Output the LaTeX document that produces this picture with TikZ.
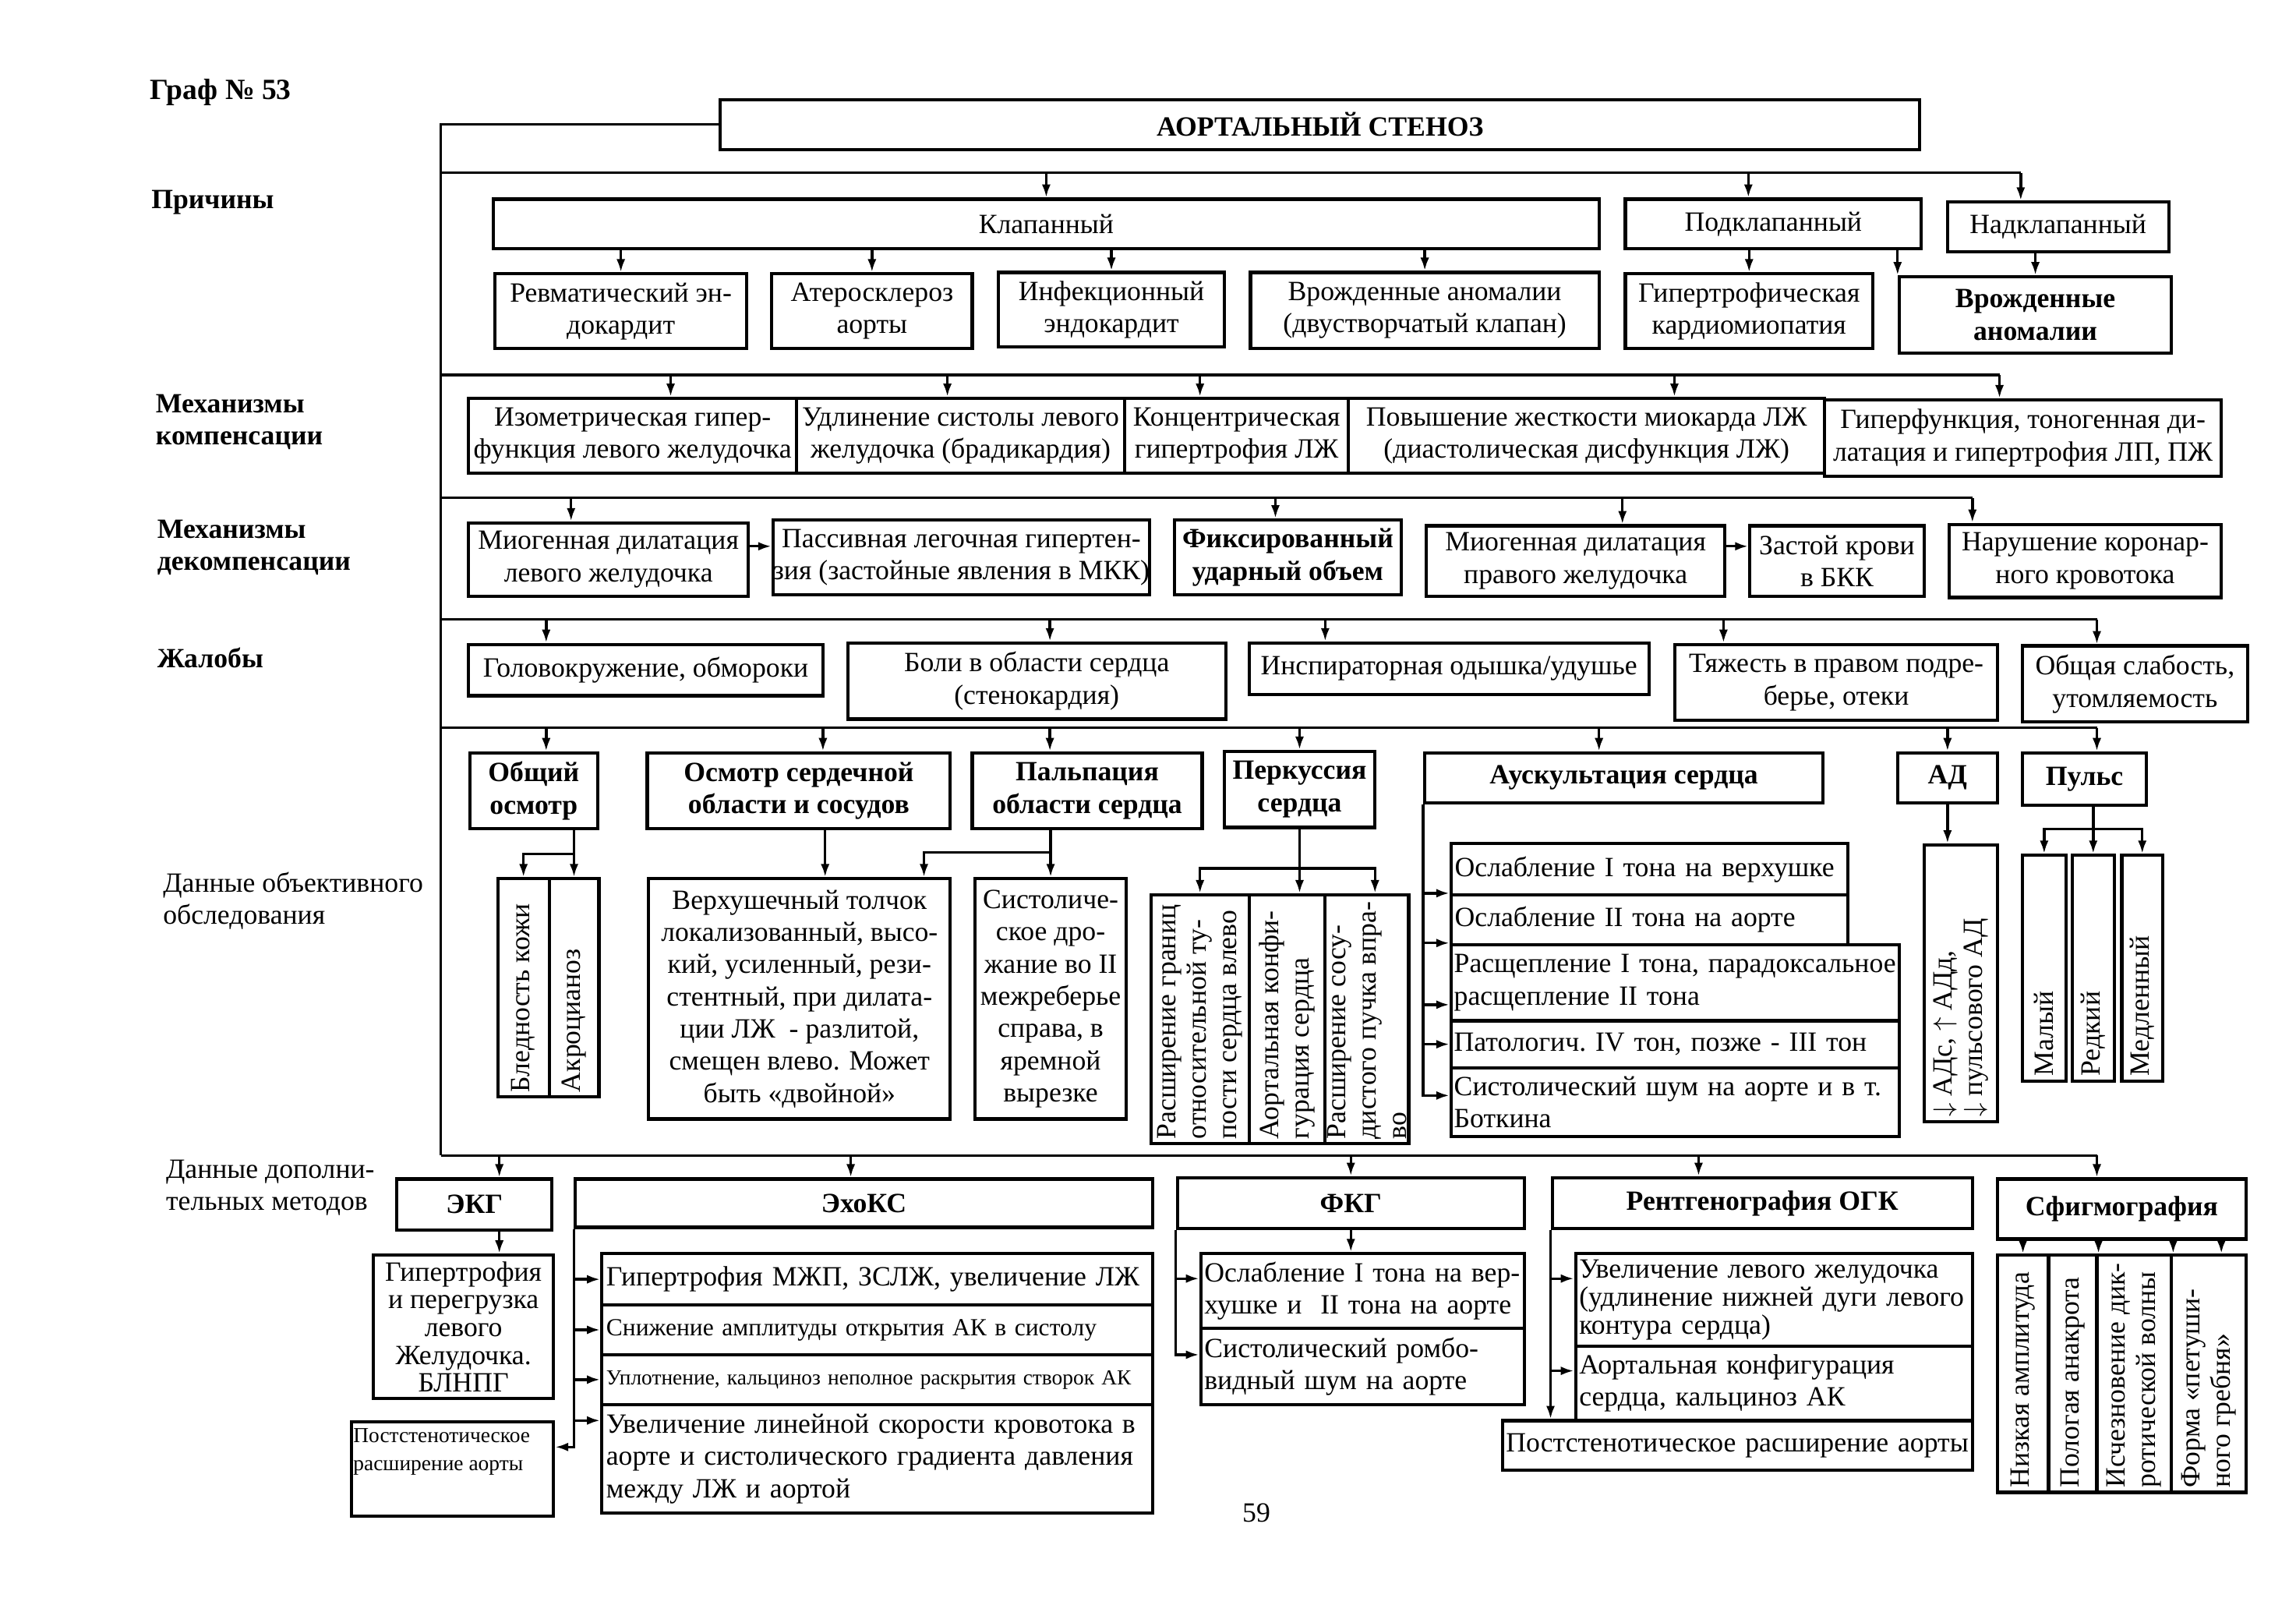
\documentclass[tikz,border=0pt]{standalone}
\usepackage{fontspec}
\setmainfont{Liberation Serif}
\usetikzlibrary{arrows.meta,positioning}
\newcommand\acnorm{\fontsize{9.5}{11}\selectfont}
\newcommand\actight{\fontsize{9.5}{9.5}\selectfont}
\newcommand\acsmall{\fontsize{8.4}{10}\selectfont}
\newcommand\actiny{\fontsize{7.3}{9.5}\selectfont}
\newcommand\acvert{\fontsize{9.5}{10.4}\selectfont}
\tikzset{
  ac/span/.style n args={4}{at={({(#1+#3)/2},{(#2+#4)/2})},
    minimum width={(#3-#1)*0.5pt}, minimum height={(#4-#2)*0.5pt}},
  ac/box/.style={draw, line width=1.1pt, inner sep=0pt, align=center, font=\acnorm},
  ac/head/.style={ac/box, font=\acnorm\bfseries},
  ac/list/.style={ac/box, align=left},
  ac/side/.style={anchor=west, align=left, inner sep=0pt, font=\acnorm},
  ac/vtext/.style={rotate=90, anchor=west, align=left, inner sep=0pt, font=\acvert},
  ac/line/.style={line width=0.9pt},
  ac/arrow/.style={ac/line, -{Latex[length=4.5pt,width=3pt]}}
}
\begin{document}
\begin{tikzpicture}[x=0.5pt, y=-0.5pt]
\useasboundingbox (0,0) rectangle (1568,1091);

% left column
\node[ac/side, font=\fontsize{10}{12}\selectfont\bfseries] (graf) at (102,63) {Граф № 53};
\node[ac/side, font=\acnorm\bfseries] (lprich) at (103,138) {Причины};
\node[ac/side, font=\acnorm\bfseries] (lkomp) at (106,288) {Механизмы\\компенсации};
\node[ac/side, font=\acnorm\bfseries] (ldekomp) at (107,374) {Механизмы\\декомпенсации};
\node[ac/side, font=\acnorm\bfseries] (lzhal) at (107,449) {Жалобы};
\node[ac/side] (lobj) at (111,615) {Данные объективного\\обследования};
\node[ac/side] (ldop) at (113,811) {Данные дополни-\\тельных методов};

\node[ac/head, ac/span={492}{68}{1311}{102}] (title) {АОРТАЛЬНЫЙ СТЕНОЗ};

\coordinate (r1) at (301,118);
\coordinate (r2) at (301,256);
\coordinate (r3) at (301,340);
\coordinate (r4) at (301,423);
\coordinate (r5) at (301,497);
\coordinate (r6) at (301,789);

% causes
\node[ac/box, ac/span={337}{136}{1092}{170}] (kl) {Клапанный};
\node[ac/box, ac/span={1110}{136}{1312}{170}] (podkl) {Подклапанный};
\node[ac/box, ac/span={1330}{138}{1481}{172}] (nadkl) {Надклапанный};
\node[ac/box, ac/span={338}{187}{510}{238}] (revm) {Ревматический эн-\\докардит};
\node[ac/box, ac/span={527}{187}{664}{238}] (ater) {Атеросклероз\\аорты};
\node[ac/box, ac/span={682}{186}{836}{237}] (infek) {Инфекционный\\эндокардит};
\node[ac/box, ac/span={854}{186}{1092}{238}] (vrozh1) {Врожденные аномалии\\(двустворчатый клапан)};
\node[ac/box, ac/span={1110}{187}{1279}{238}] (gipkm) {Гипертрофическая\\кардиомиопатия};
\node[ac/head, ac/span={1297}{189}{1483}{241}] (vrozh2) {Врожденные\\аномалии};

% compensation
\node[ac/box, ac/span={320}{272}{544}{323}] (izom) {Изометрическая гипер-\\функция левого желудочка};
\node[ac/box, ac/span={544}{272}{768}{323}] (udlin) {Удлинение систолы левого\\желудочка (брадикардия)};
\node[ac/box, ac/span={768}{272}{921}{323}] (konc) {Концентрическая\\гипертрофия ЛЖ};
\node[ac/box, ac/span={921}{272}{1246}{323}] (povysh) {Повышение жесткости миокарда ЛЖ\\(диастолическая дисфункция ЛЖ)};
\node[ac/box, ac/span={1246}{273}{1517}{325}] (giperf) {Гиперфункция, тоногенная ди-\\латация и гипертрофия ЛП, ПЖ};

% decompensation
\node[ac/box, ac/span={320}{357}{511}{407}] (miolv) {Миогенная дилатация\\левого желудочка};
\node[ac/box, ac/span={528}{355}{785}{406}] (passiv) {Пассивная легочная гипертен-\\зия (застойные явления в МКК)};
\node[ac/head, ac/span={802}{355}{957}{406}] (fiks) {Фиксированный\\ударный объем};
\node[ac/box, ac/span={974}{359}{1178}{407}] (miopr) {Миогенная дилатация\\правого желудочка};
\node[ac/box, ac/span={1195}{359}{1314}{407}] (zastoi) {Застой крови\\в БКК};
\node[ac/box, ac/span={1331}{358}{1517}{408}] (narush) {Нарушение коронар-\\ного кровотока};

% complaints
\node[ac/box, ac/span={320}{440}{562}{475}] (golov) {Головокружение, обмороки};
\node[ac/box, ac/span={579}{439}{837}{491}] (boli) {Боли в области сердца\\(стенокардия)};
\node[ac/box, ac/span={853}{439}{1126}{474}] (insp) {Инспираторная одышка/удушье};
\node[ac/box, ac/span={1144}{440}{1364}{492}] (tyazh) {Тяжесть в правом подре-\\берье, отеки};
\node[ac/box, ac/span={1381}{441}{1535}{493}] (slab) {Общая слабость,\\утомляемость};

% objective examination
\node[ac/head, ac/span={321}{514}{408}{566}] (obsh) {Общий\\осмотр};
\node[ac/head, ac/span={442}{514}{649}{566}] (osm) {Осмотр сердечной\\области и сосудов};
\node[ac/head, ac/span={664}{514}{821}{566}] (palp) {Пальпация\\области сердца};
\node[ac/head, ac/span={836}{513}{939}{565}] (perc) {Перкуссия\\сердца};
\node[ac/head, ac/span={973}{514}{1245}{548}] (ausc) {Аускультация сердца};
\node[ac/head, ac/span={1296}{514}{1364}{548}] (ad) {АД};
\node[ac/head, ac/span={1381}{514}{1466}{550}] (puls) {Пульс};

\node[ac/box, ac/span={340}{600}{375}{749}] (bled) {};
\node[ac/box, ac/span={375}{600}{409}{749}] (akro) {};
\node[ac/vtext] at ([yshift=2pt]bled.south) {Бледность кожи};
\node[ac/vtext] at ([yshift=2pt]akro.south) {Акроцианоз};

\node[ac/box, ac/span={443}{600}{649}{764}] (verkh) {Верхушечный толчок\\локализованный, высо-\\кий, усиленный, рези-\\стентный, при дилата-\\ции ЛЖ \ - разлитой,\\смещен влево. Может\\быть «двойной»};
\node[ac/box, ac/span={666}{600}{769}{764}] (syst) {Систоличе-\\ское дро-\\жание во II\\межреберье\\справа, в\\яремной\\вырезке};

\node[ac/box, ac/span={786}{611}{853}{781}] (pb1) {};
\node[ac/box, ac/span={853}{611}{905}{781}] (pb2) {};
\node[ac/box, ac/span={905}{611}{962}{781}] (pb3) {};
\node[ac/vtext] at ([yshift=2pt]pb1.south) {Расширение границ\\относительной ту-\\пости сердца влево};
\node[ac/vtext] at ([yshift=2pt]pb2.south) {Аортальная конфи-\\гурация сердца};
\node[ac/vtext] at ([yshift=2pt]pb3.south) {Расширение сосу-\\дистого пучка впра-\\во};

\node[ac/list, text width=133pt, ac/span={991}{576}{1262}{611}] (as1) {Ослабление I тона на верхушке};
\node[ac/list, text width=133pt, ac/span={991}{611}{1262}{645}] (as2) {Ослабление II тона на аорте};
\node[ac/list, text width=151pt, ac/span={991}{645}{1297}{697}] (as3) {Расщепление I тона, парадоксальное\\расщепление II тона};
\node[ac/list, text width=151pt, ac/span={991}{697}{1297}{729}] (as4) {Патологич.\ IV тон, позже - III тон};
\node[ac/list, text width=151pt, ac/span={991}{729}{1297}{776}] (as5) {Систолический шум на аорте и в т.\\Боткина};

\node[ac/box, ac/span={1314}{577}{1364}{766}] (adb) {};
\node[ac/vtext] at ([yshift=2pt]adb.south) {$\downarrow$ АДс, $\uparrow$ АДд,\\$\downarrow$ пульсового АД};

\node[ac/box, ac/span={1381}{584}{1411}{738}] (pm) {};
\node[ac/box, ac/span={1415}{584}{1444}{738}] (pr) {};
\node[ac/box, ac/span={1449}{584}{1477}{738}] (pmed) {};
\node[ac/vtext] at ([yshift=2pt]pm.south) {Малый};
\node[ac/vtext] at ([yshift=2pt]pr.south) {Редкий};
\node[ac/vtext] at ([yshift=2pt]pmed.south) {Медленный};

% additional methods
\node[ac/head, ac/span={271}{805}{377}{840}] (ekg) {ЭКГ};
\node[ac/head, ac/span={393}{805}{787}{838}] (echo) {ЭхоКС};
\node[ac/head, ac/span={804}{804}{1041}{839}] (fkg) {ФКГ};
\node[ac/head, ac/span={1060}{804}{1347}{839}] (rent) {Рентгенография ОГК};
\node[ac/head, ac/span={1364}{805}{1534}{846}] (sfig) {Сфигмография};

\node[ac/box, font=\actight, ac/span={255}{857}{378}{955}] (ekgb) {Гипертрофия\\и перегрузка\\левого\\Желудочка.\\БЛНПГ};
\node[ac/box, ac/span={240}{971}{378}{1035}] (pst1) {};
\node[ac/side, font=\actiny, anchor=north west] at ([xshift=1pt,yshift=-2.5pt]pst1.north west) {Постстенотическое\\расширение аорты};

\node[ac/list, text width=185pt, ac/span={411}{856}{787}{891}] (e1) {Гипертрофия МЖП, ЗСЛЖ, увеличение ЛЖ};
\node[ac/list, text width=185pt, font=\acsmall, ac/span={411}{891}{787}{925}] (e2) {Снижение амплитуды открытия АК в систолу};
\node[ac/list, text width=185pt, font=\actiny, ac/span={411}{925}{787}{959}] (e3) {Уплотнение, кальциноз неполное раскрытия створок АК};
\node[ac/list, text width=185pt, ac/span={411}{959}{787}{1033}] (e4) {Увеличение линейной скорости кровотока в\\аорте и систолического градиента давления\\между ЛЖ и аортой};

\node[ac/list, text width=108pt, ac/span={820}{856}{1041}{907}] (fb1) {Ослабление I тона на вер-\\хушке и ~II тона на аорте};
\node[ac/list, text width=108pt, ac/span={820}{907}{1041}{959}] (fb2) {Систолический ромбо-\\видный шум на аорте};

\node[ac/list, text width=133pt, font=\actight, ac/span={1076}{856}{1347}{919}] (rb1) {Увеличение левого желудочка\\(удлинение нижней дуги левого\\контура сердца)};
\node[ac/list, text width=133pt, ac/span={1076}{919}{1347}{970}] (rb2) {Аортальная конфигурация\\сердца, кальциноз АК};
\node[ac/list, text width=158pt, ac/span={1026}{970}{1347}{1004}] (pst2) {Постстенотическое расширение аорты};

\node[ac/box, ac/span={1364}{857}{1399}{1019}] (s1) {};
\node[ac/box, ac/span={1399}{857}{1432}{1019}] (s2) {};
\node[ac/box, ac/span={1432}{857}{1483}{1019}] (s3) {};
\node[ac/box, ac/span={1483}{857}{1534}{1019}] (s4) {};
\node[ac/vtext] at ([yshift=2pt]s1.south) {Низкая амплитуда};
\node[ac/vtext] at ([yshift=2pt]s2.south) {Пологая анакрота};
\node[ac/vtext] at ([yshift=2pt]s3.south) {Исчезновение дик-\\ротической волны};
\node[ac/vtext] at ([yshift=2pt]s4.south) {Форма «петуши-\\ного гребня»};

\node[font=\acnorm] (page) at (858,1033) {59};

% spine and rows
\draw[ac/line] (title.west) -- (title.west -| r1) -- (r6);

\draw[ac/line] (r1) -- ([xshift=-12.75pt]nadkl.north |- r1);
\draw[ac/arrow] (kl.north |- r1) -- (kl.north);
\draw[ac/arrow] ([xshift=-8.5pt]podkl.north |- r1) -- ([xshift=-8.5pt]podkl.north);
\draw[ac/arrow] ([xshift=-12.75pt]nadkl.north |- r1) -- ([xshift=-12.75pt]nadkl.north);
\draw[ac/arrow] (kl.south -| revm.north) -- (revm.north);
\draw[ac/arrow] (kl.south -| ater.north) -- (ater.north);
\draw[ac/arrow] (kl.south -| infek.north) -- (infek.north);
\draw[ac/arrow] (kl.south -| vrozh1.north) -- (vrozh1.north);
\draw[ac/arrow] (podkl.south -| gipkm.north) -- (gipkm.north);
\draw[ac/arrow] (vrozh2.north west |- podkl.south) -- (vrozh2.north west);
\draw[ac/arrow] (nadkl.south -| vrozh2.north) -- (vrozh2.north);

\draw[ac/line] (r2) -- ([xshift=-8pt]giperf.north |- r2);
\draw[ac/arrow] ([xshift=13pt]izom.north |- r2) -- ([xshift=13pt]izom.north);
\draw[ac/arrow] ([xshift=-4.5pt]udlin.north |- r2) -- ([xshift=-4.5pt]udlin.north);
\draw[ac/arrow] ([xshift=-12.5pt]konc.north |- r2) -- ([xshift=-12.5pt]konc.north);
\draw[ac/arrow] ([xshift=30pt]povysh.north |- r2) -- ([xshift=30pt]povysh.north);
\draw[ac/arrow] ([xshift=-8pt]giperf.north |- r2) -- ([xshift=-8pt]giperf.north);

\draw[ac/line] (r3) -- ([xshift=-38.5pt]narush.north |- r3);
\draw[ac/arrow] ([xshift=-12.75pt]miolv.north |- r3) -- ([xshift=-12.75pt]miolv.north);
\draw[ac/arrow] ([xshift=-4.25pt]fiks.north |- r3) -- ([xshift=-4.25pt]fiks.north);
\draw[ac/arrow] ([xshift=16pt]miopr.north |- r3) -- ([xshift=16pt]miopr.north);
\draw[ac/arrow] ([xshift=-38.5pt]narush.north |- r3) -- ([xshift=-38.5pt]narush.north);
\draw[ac/arrow] ([yshift=4.5pt]miolv.east) -- ([yshift=4.5pt]miolv.east -| passiv.west);
\draw[ac/arrow] ([yshift=5pt]miopr.east) -- ([yshift=5pt]miopr.east -| zastoi.west);

\draw[ac/line] (r4) -- ([xshift=-13pt]slab.north |- r4);
\draw[ac/arrow] ([xshift=-34pt]golov.north |- r4) -- ([xshift=-34pt]golov.north);
\draw[ac/arrow] ([xshift=4.5pt]boli.north |- r4) -- ([xshift=4.5pt]boli.north);
\draw[ac/arrow] ([xshift=-42.25pt]insp.north |- r4) -- ([xshift=-42.25pt]insp.north);
\draw[ac/arrow] ([xshift=-38.5pt]tyazh.north |- r4) -- ([xshift=-38.5pt]tyazh.north);
\draw[ac/arrow] ([xshift=-13pt]slab.north |- r4) -- ([xshift=-13pt]slab.north);

\draw[ac/line] (r5) -- ([xshift=4.25pt]puls.north |- r5);
\draw[ac/arrow] ([xshift=4.25pt]obsh.north |- r5) -- ([xshift=4.25pt]obsh.north);
\draw[ac/arrow] ([xshift=8.25pt]osm.north |- r5) -- ([xshift=8.25pt]osm.north);
\draw[ac/arrow] ([xshift=-12.75pt]palp.north |- r5) -- ([xshift=-12.75pt]palp.north);
\draw[ac/arrow] (perc.north |- r5) -- (perc.north);
\draw[ac/arrow] ([xshift=-8.5pt]ausc.north |- r5) -- ([xshift=-8.5pt]ausc.north);
\draw[ac/arrow] (ad.north |- r5) -- (ad.north);
\draw[ac/arrow] ([xshift=4.25pt]puls.north |- r5) -- ([xshift=4.25pt]puls.north);

\coordinate (obshfork) at (392,583);
\draw[ac/arrow] (obsh.south -| akro.north) -- (akro.north);
\draw[ac/arrow] (obshfork) -| (bled.north);
\draw[ac/arrow] ([xshift=9pt]osm.south) -- ([xshift=9pt]osm.south |- verkh.north);
\coordinate (palpfork) at (717.5,582);
\draw[ac/arrow] (palp.south -| syst.north) -- (syst.north);
\draw[ac/arrow] (palpfork) -| ([xshift=42.5pt]verkh.north);
\coordinate (percfork) at (887.5,593);
\draw[ac/arrow] (perc.south) -- (perc.south |- pb2.north);
\draw[ac/arrow] (percfork) -| (pb1.north);
\draw[ac/arrow] (percfork) -| ([xshift=2.75pt]pb3.north);
\draw[ac/arrow] (ausc.south west) |- ([yshift=2.25pt]as5.west);
\draw[ac/arrow] (ausc.south west |- as2.north west) -- (as2.north west);
\draw[ac/arrow] (ausc.south west |- as3.north west) -- (as3.north west);
\draw[ac/arrow] ([yshift=-7.5pt]as3.west -| ausc.south west) -- ([yshift=-7.5pt]as3.west);
\draw[ac/arrow] (ausc.south west |- as4.west) -- (as4.west);
\draw[ac/arrow] (ad.south) -- (ad.south |- adb.north);
\coordinate (pulsfork) at (1429.5,566);
\draw[ac/arrow] (puls.south -| pr.north) -- (pr.north);
\draw[ac/arrow] (pulsfork) -| (pm.north);
\draw[ac/arrow] (pulsfork) -| (pmed.north);

\draw[ac/line] (r6) -- ([xshift=-8.5pt]sfig.north |- r6);
\draw[ac/arrow] ([xshift=8.5pt]ekg.north |- r6) -- ([xshift=8.5pt]ekg.north);
\draw[ac/arrow] ([xshift=-4.5pt]echo.north |- r6) -- ([xshift=-4.5pt]echo.north);
\draw[ac/arrow] (fkg.north |- r6) -- (fkg.north);
\draw[ac/arrow] ([xshift=-21.75pt]rent.north |- r6) -- ([xshift=-21.75pt]rent.north);
\draw[ac/arrow] ([xshift=-8.5pt]sfig.north |- r6) -- ([xshift=-8.5pt]sfig.north);

\draw[ac/arrow] ([xshift=8.5pt]ekg.south) -- ([xshift=8.5pt]ekg.south |- ekgb.north);
\draw[ac/arrow] (echo.south west) |- ([yshift=7.5pt]pst1.east);
\draw[ac/arrow] (echo.south west |- e1.west) -- (e1.west);
\draw[ac/arrow] (echo.south west |- e2.west) -- (e2.west);
\draw[ac/arrow] (echo.south west |- e3.west) -- (e3.west);
\draw[ac/arrow] ([yshift=-6pt]e4.north west -| echo.south west) -- ([yshift=-6pt]e4.north west);
\draw[ac/arrow] (fkg.south) -- (fkg.south |- fb1.north);
\draw[ac/arrow] (fkg.south west) |- ([yshift=4pt]fb2.west);
\draw[ac/arrow] ([yshift=4.25pt]fb1.west -| fkg.south west) -- ([yshift=4.25pt]fb1.west);
\draw[ac/arrow] (rent.south west) -- (rent.south west |- pst2.north);
\draw[ac/arrow] ([yshift=7.25pt]rb1.west -| rent.south west) -- ([yshift=7.25pt]rb1.west);
\draw[ac/arrow] ([yshift=4.25pt]rb2.west -| rent.south west) -- ([yshift=4.25pt]rb2.west);
\draw[ac/arrow] (sfig.south -| s1.north) -- (s1.north);
\draw[ac/arrow] (sfig.south -| s2.north east) -- (s2.north east);
\draw[ac/arrow] (sfig.south -| s3.north east) -- (s3.north east);
\draw[ac/arrow] ([xshift=4.25pt]s4.north |- sfig.south) -- ([xshift=4.25pt]s4.north);
\end{tikzpicture}
\end{document}
